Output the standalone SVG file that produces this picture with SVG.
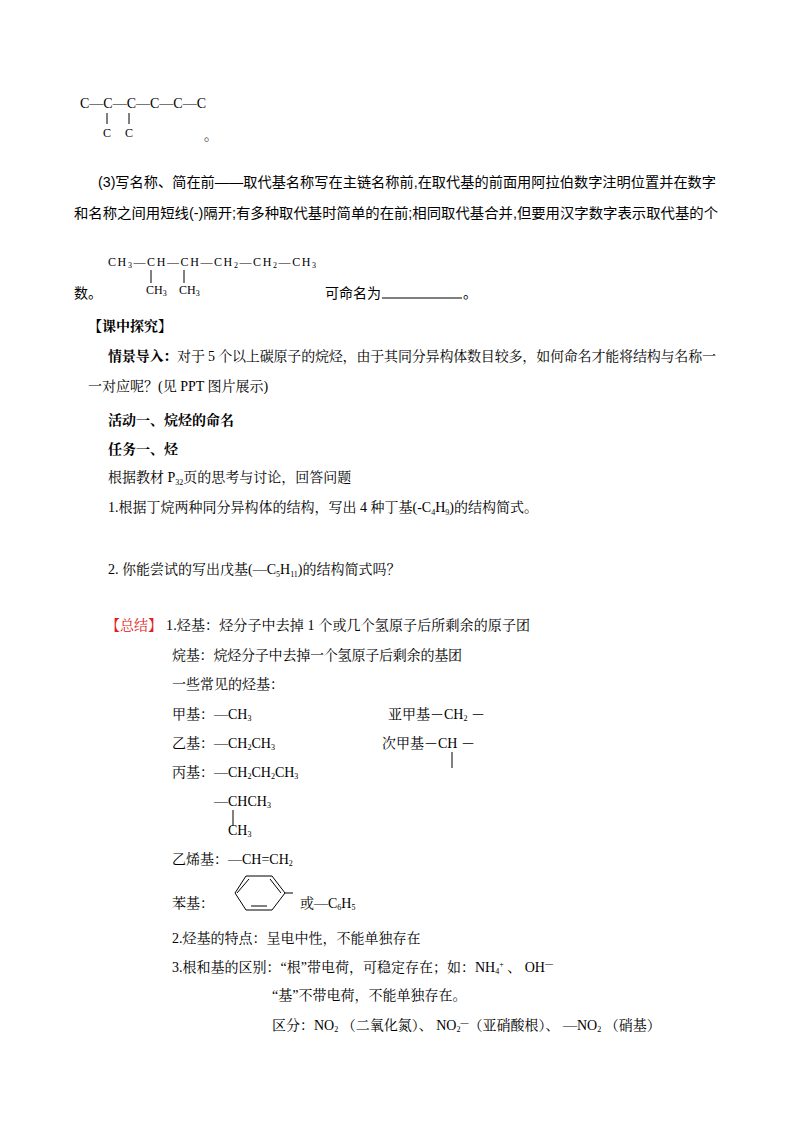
<svg xmlns="http://www.w3.org/2000/svg" width="800" height="1132" viewBox="0 0 800 1132">
<style>
text{font-family:"Liberation Serif","Noto Serif CJK SC","Noto Sans CJK SC",serif;font-size:14px;fill:#000}
.s{font-family:"Liberation Sans","Noto Sans CJK SC",sans-serif;font-size:14px}
.b{font-weight:bold}
.sm{font-size:12px}
.sub{font-size:8px}
line,path,polyline{stroke:#000;stroke-width:1;fill:none}
</style>
<rect width="800" height="1132" fill="#fff"/>
<g id="chain1">
<text x="80" y="108" font-size="12">C—C—C—C—C—C</text>
<line x1="107" y1="113" x2="107" y2="124"/><line x1="129" y1="113" x2="129" y2="124"/>
<text x="103" y="137" class="sm">C</text><text x="125" y="137" class="sm">C</text>
<text x="204" y="140">。</text>
</g>
<g id="p3">
<text x="98" y="187" class="s" textLength="618" lengthAdjust="spacingAndGlyphs">(3)写名称、简在前——取代基名称写在主链名称前,在取代基的前面用阿拉伯数字注明位置并在数字</text>
<text x="74" y="218" class="s" textLength="644" lengthAdjust="spacingAndGlyphs">和名称之间用短线(-)隔开;有多种取代基时简单的在前;相同取代基合并,但要用汉字数字表示取代基的个</text>
<text x="108" y="266" class="sm" textLength="208" lengthAdjust="spacing">CH<tspan class="sub" dy="2">3</tspan><tspan dy="-2">—CH—CH—CH</tspan><tspan class="sub" dy="2">2</tspan><tspan dy="-2">—CH</tspan><tspan class="sub" dy="2">2</tspan><tspan dy="-2">—CH</tspan><tspan class="sub" dy="2">3</tspan></text>
<line x1="151" y1="270" x2="151" y2="283"/><line x1="184" y1="270" x2="184" y2="283"/>
<text x="146" y="294" class="sm">CH<tspan class="sub" dy="2">3</tspan></text>
<text x="179" y="294" class="sm">CH<tspan class="sub" dy="2">3</tspan></text>
<text x="74" y="298" class="s">数。</text>
<text x="325" y="298" class="s">可命名为</text>
<line x1="382" y1="298" x2="462" y2="298"/>
<text x="463" y="298" class="s">。</text>
</g>
<g id="explore">
<text x="88" y="331" class="b">【课中探究】</text>
<text x="108" y="361" textLength="608" lengthAdjust="spacing"><tspan class="b">情景导入：</tspan>对于 5 个以上碳原子的烷烃，由于其同分异构体数目较多，如何命名才能将结构与名称一</text>
<text x="88" y="391">一对应呢？(见 PPT 图片展示)</text>
<text x="108" y="425" class="b">活动一、烷烃的命名</text>
<text x="108" y="454" class="b">任务一、烃</text>
<text x="108" y="482">根据教材 P<tspan class="sub" dy="3">32</tspan><tspan dy="-3">页的思考与讨论，回答问题</tspan></text>
<text x="108" y="512">1.根据丁烷两种同分异构体的结构，写出 4 种丁基(-C<tspan class="sub" dy="3">4</tspan><tspan dy="-3">H</tspan><tspan class="sub" dy="3">9</tspan><tspan dy="-3">)的结构简式。</tspan></text>
<text x="108" y="574">2. 你能尝试的写出戊基(—C<tspan class="sub" dy="3">5</tspan><tspan dy="-3">H</tspan><tspan class="sub" dy="3">11</tspan><tspan dy="-3">)的结构简式吗？</tspan></text>
</g>
<g id="summary">
<text x="106" y="630" style="fill:#e02020">【总结】</text>
<text x="166" y="630" textLength="364" lengthAdjust="spacing">1.烃基：烃分子中去掉 1 个或几个氢原子后所剩余的原子团</text>
<text x="172" y="660" textLength="290" lengthAdjust="spacing">烷基：烷烃分子中去掉一个氢原子后剩余的基团</text>
<text x="172" y="689">一些常见的烃基：</text>
<text x="172" y="719">甲基：—CH<tspan class="sub" dy="2">3</tspan></text>
<text x="388" y="719">亚甲基－CH<tspan class="sub" dy="2">2</tspan><tspan dy="-2"> －</tspan></text>
<text x="172" y="748">乙基：—CH<tspan class="sub" dy="2">2</tspan><tspan dy="-2">CH</tspan><tspan class="sub" dy="2">3</tspan></text>
<text x="382" y="748">次甲基－CH －</text>
<line x1="452" y1="752" x2="452" y2="768" stroke-width="2"/>
<text x="172" y="777">丙基：—CH<tspan class="sub" dy="2">2</tspan><tspan dy="-2">CH</tspan><tspan class="sub" dy="2">2</tspan><tspan dy="-2">CH</tspan><tspan class="sub" dy="2">3</tspan></text>
<text x="214" y="806">—CHCH<tspan class="sub" dy="2">3</tspan></text>
<line x1="233" y1="810" x2="233" y2="826" stroke-width="2"/>
<text x="228" y="835">CH<tspan class="sub" dy="2">3</tspan></text>
<text x="172" y="864">乙烯基：—CH=CH<tspan class="sub" dy="2">2</tspan></text>
<text x="172" y="908">苯基：</text>
<polyline points="246,876 272,876 285,893 272,910 246,910 235,893 246,876"/>
<line x1="249" y1="879" x2="237" y2="893"/><line x1="270" y1="879" x2="281" y2="893"/><line x1="251" y1="906" x2="267" y2="906"/>
<line x1="285" y1="893" x2="293" y2="893" stroke="#888"/>
<text x="300" y="908">或—C<tspan class="sub" dy="2">6</tspan><tspan dy="-2">H</tspan><tspan class="sub" dy="2">5</tspan></text>
<text x="172" y="943">2.烃基的特点：呈电中性，不能单独存在</text>
<text x="172" y="972">3.根和基的区别：“根”带电荷，可稳定存在；如：NH<tspan class="sub" dy="2">4</tspan><tspan class="sub" dy="-7">+</tspan><tspan dy="5"> 、 OH</tspan><tspan class="sub" dy="-6">—</tspan></text>
<text x="272" y="1000">“基”不带电荷，不能单独存在。</text>
<text x="272" y="1030">区分：NO<tspan class="sub" dy="2">2</tspan><tspan dy="-2"> （二氧化氮）、 NO</tspan><tspan class="sub" dy="2">2</tspan><tspan class="sub" dy="-7">—</tspan><tspan dy="5">（亚硝酸根）、 —NO</tspan><tspan class="sub" dy="2">2</tspan><tspan dy="-2"> （硝基）</tspan></text>
</g>
</svg>
